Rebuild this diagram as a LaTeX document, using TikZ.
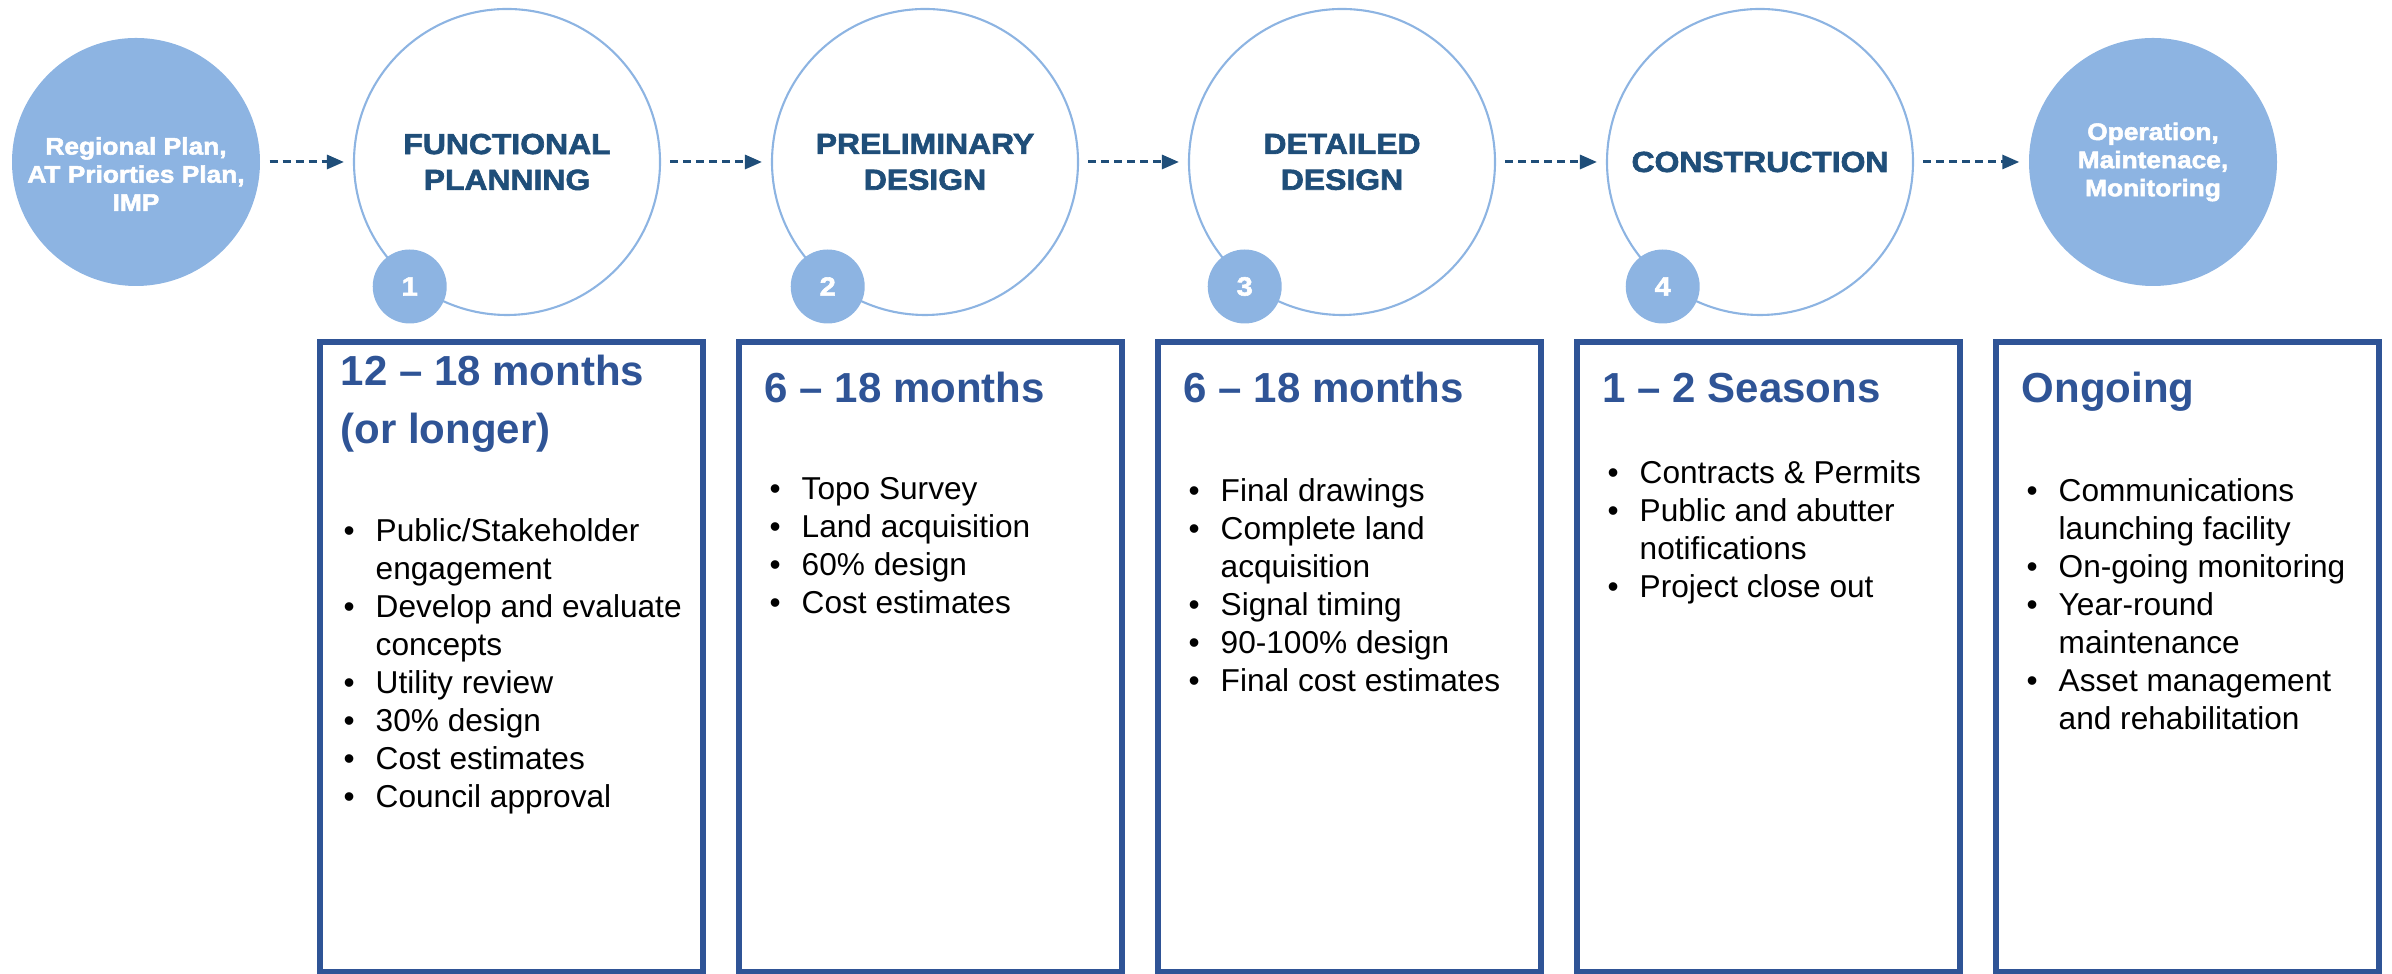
\documentclass[tikz,border=0pt]{standalone}
\usepackage{fontspec}
\setmainfont{Liberation Sans}
\newfontfamily\stagefont[FakeStretch=1.1,FakeBold=2.2]{Liberation Sans}
\usetikzlibrary{arrows.meta}
\usetikzlibrary{calc}

\definecolor{lightblue}{HTML}{8DB4E2}
\definecolor{darkblue}{HTML}{1F4E79}
\definecolor{boxblue}{HTML}{2F5496}

\newcommand{\tasklist}[1]{\begin{tabular}[t]{@{}p{0.32cm}@{}l@{}}#1\end{tabular}}
\newcommand{\durlines}[1]{\begin{tabular}[t]{@{}l@{}}#1\end{tabular}}

\begin{document}
\begin{tikzpicture}[
    stagecircle/.style={circle, draw=lightblue, line width=0.6pt, minimum size=3.06cm, inner sep=0pt, align=center, text=darkblue, font=\stagefont\bfseries\fontsize{8.25}{10.2}\selectfont},
    endcircle/.style={circle, fill=lightblue, minimum size=2.48cm, inner sep=0pt},
    endtext/.style={align=center, inner sep=0pt, text=white, font=\stagefont\bfseries\fontsize{6.8}{8}\selectfont},
    numcircle/.style={circle, fill=lightblue, minimum size=0.74cm, inner sep=0pt, text=white, font=\stagefont\bfseries\fontsize{7.5}{9}\selectfont},
    flowarrow/.style={darkblue, line width=0.85pt, dash pattern=on 0.08cm off 0.05cm, -{Triangle[length=0.17cm, width=0.14cm]}, shorten <=0.09cm, shorten >=0.09cm},
    phasebox/.style={draw=boxblue, line width=1.7pt, minimum width=3.83cm, minimum height=6.30cm, inner sep=0pt, anchor=north west},
    durtext/.style={anchor=base west, inner sep=0pt, text=boxblue, font=\bfseries\fontsize{11.95}{16.5}\selectfont},
    tasktext/.style={anchor=base west, inner sep=0pt, font=\fontsize{9}{10.8}\selectfont}
  ]
  \useasboundingbox (0,0) rectangle (23.92,-9.74);

  % process circles
  \node[endcircle] (reg) at (1.36,-1.62) {};
  \node[endtext] (regtext) at ([yshift=-0.12cm]reg.center) {Regional Plan,\\AT Priorties Plan,\\IMP};
  \node[stagecircle] (fp) at (5.07,-1.62) {FUNCTIONAL\\PLANNING};
  \node[stagecircle] (pd) at (9.25,-1.62) {PRELIMINARY\\DESIGN};
  \node[stagecircle] (dd) at (13.42,-1.62) {DETAILED\\DESIGN};
  \node[stagecircle] (con) at (17.60,-1.62) {CONSTRUCTION};
  \node[endcircle] (omm) at (21.53,-1.62) {};
  \node[endtext] (ommtext) at (omm.center) {Operation,\\Maintenace,\\Monitoring};

  \node[numcircle] (n1) at ([shift={(232:1.58)}]fp) {1};
  \node[numcircle] (n2) at ([shift={(232:1.58)}]pd) {2};
  \node[numcircle] (n3) at ([shift={(232:1.58)}]dd) {3};
  \node[numcircle] (n4) at ([shift={(232:1.58)}]con) {4};

  \draw[flowarrow] (reg) -- (fp);
  \draw[flowarrow] (fp) -- (pd);
  \draw[flowarrow] (pd) -- (dd);
  \draw[flowarrow] (dd) -- (con);
  \draw[flowarrow] (con) -- (omm);

  % duration boxes
  \node[phasebox] (b1) at (3.17,-3.39) {};
  \node[phasebox] (b2) at (7.36,-3.39) {};
  \node[phasebox] (b3) at (11.55,-3.39) {};
  \node[phasebox] (b4) at (15.74,-3.39) {};
  \node[phasebox] (b5) at (19.93,-3.39) {};

  \node[durtext] (d1) at ($(b1.north west)+(0.23,-0.47)$) {\durlines{12 -- 18 months\\(or longer)}};
  \node[durtext] (d2) at ($(b2.north west)+(0.28,-0.64)$) {6 -- 18 months};
  \node[durtext] (d3) at ($(b3.north west)+(0.28,-0.64)$) {6 -- 18 months};
  \node[durtext] (d4) at ($(b4.north west)+(0.28,-0.64)$) {1 -- 2 Seasons};
  \node[durtext] (d5) at ($(b5.north west)+(0.28,-0.64)$) {Ongoing};

  \node[tasktext] (t1) at ($(b1.north west)+(0.26,-2.03)$) {\tasklist{%
    \textbullet & Public/Stakeholder\\
    & engagement\\
    \textbullet & Develop and evaluate\\
    & concepts\\
    \textbullet & Utility review\\
    \textbullet & 30\% design\\
    \textbullet & Cost estimates\\
    \textbullet & Council approval}};
  \node[tasktext] (t2) at ($(b2.north west)+(0.33,-1.61)$) {\tasklist{%
    \textbullet & Topo Survey\\
    \textbullet & Land acquisition\\
    \textbullet & 60\% design\\
    \textbullet & Cost estimates}};
  \node[tasktext] (t3) at ($(b3.north west)+(0.33,-1.63)$) {\tasklist{%
    \textbullet & Final drawings\\
    \textbullet & Complete land\\
    & acquisition\\
    \textbullet & Signal timing\\
    \textbullet & 90-100\% design\\
    \textbullet & Final cost estimates}};
  \node[tasktext] (t4) at ($(b4.north west)+(0.33,-1.45)$) {\tasklist{%
    \textbullet & Contracts \& Permits\\
    \textbullet & Public and abutter\\
    & notifications\\
    \textbullet & Project close out}};
  \node[tasktext] (t5) at ($(b5.north west)+(0.33,-1.63)$) {\tasklist{%
    \textbullet & Communications\\
    & launching facility\\
    \textbullet & On-going monitoring\\
    \textbullet & Year-round\\
    & maintenance\\
    \textbullet & Asset management\\
    & and rehabilitation}};
\end{tikzpicture}
\end{document}
